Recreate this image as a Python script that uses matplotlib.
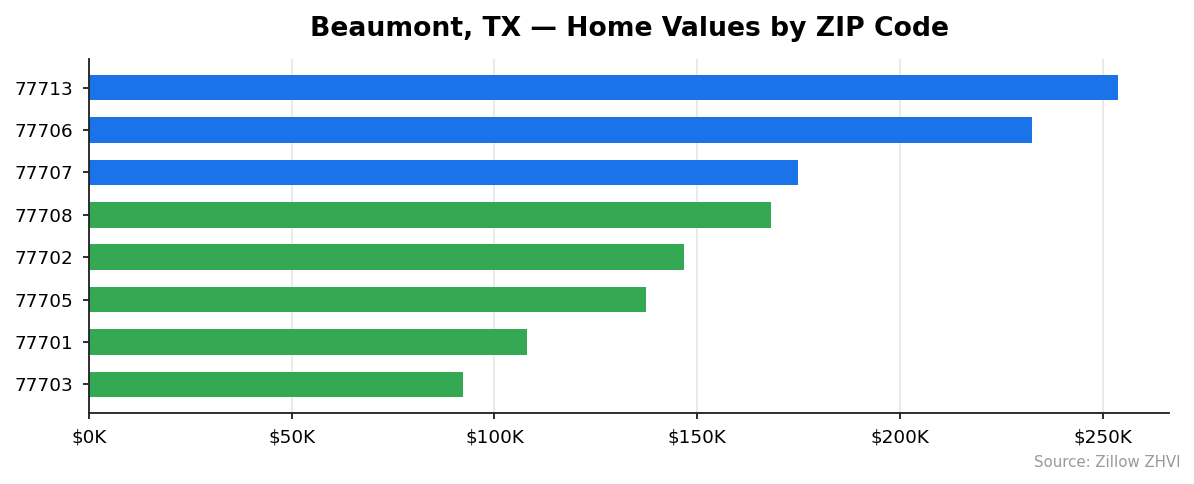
import matplotlib
matplotlib.use("Agg")
import matplotlib.pyplot as plt
from matplotlib.ticker import FuncFormatter

# ZIP codes, bottom to top as drawn
zips = ["77703", "77701", "77705", "77702", "77708", "77707", "77706", "77713"]
values = [92.2, 108.0, 137.3, 146.7, 168.1, 174.8, 232.5, 253.7]  # thousands of $
colors = ["#34a853"] * 5 + ["#1a73e8"] * 3

W, H = 1194, 484
fig = plt.figure(figsize=(W / 120, H / 120), dpi=120)
ax = fig.add_axes([89 / W, 1 - 413 / H, 1080 / W, 354 / H])

ax.barh(zips, values, height=0.6, color=colors, zorder=2)

ax.xaxis.set_major_formatter(FuncFormatter(lambda v, p: f"${v:.0f}K"))
ax.set_xticks([0, 50, 100, 150, 200, 250])
ax.grid(axis="x", color="#e6e6e6", linewidth=1, zorder=0)
ax.set_axisbelow(True)
ax.tick_params(labelsize=11, pad=6, width=1.1, color="#222222")
for side in ["top", "right"]:
    ax.spines[side].set_visible(False)
for side in ["left", "bottom"]:
    ax.spines[side].set_linewidth(1.1)
    ax.spines[side].set_color("#222222")

ax.set_title("Beaumont, TX — Home Values by ZIP Code", fontsize=16,
             fontweight="bold", pad=14)
fig.text(1180 / W, 1 - 470 / H, "Source: Zillow ZHVI", ha="right", va="bottom",
         fontsize=9, color="#999999")

fig.savefig("out.png", dpi=120)
